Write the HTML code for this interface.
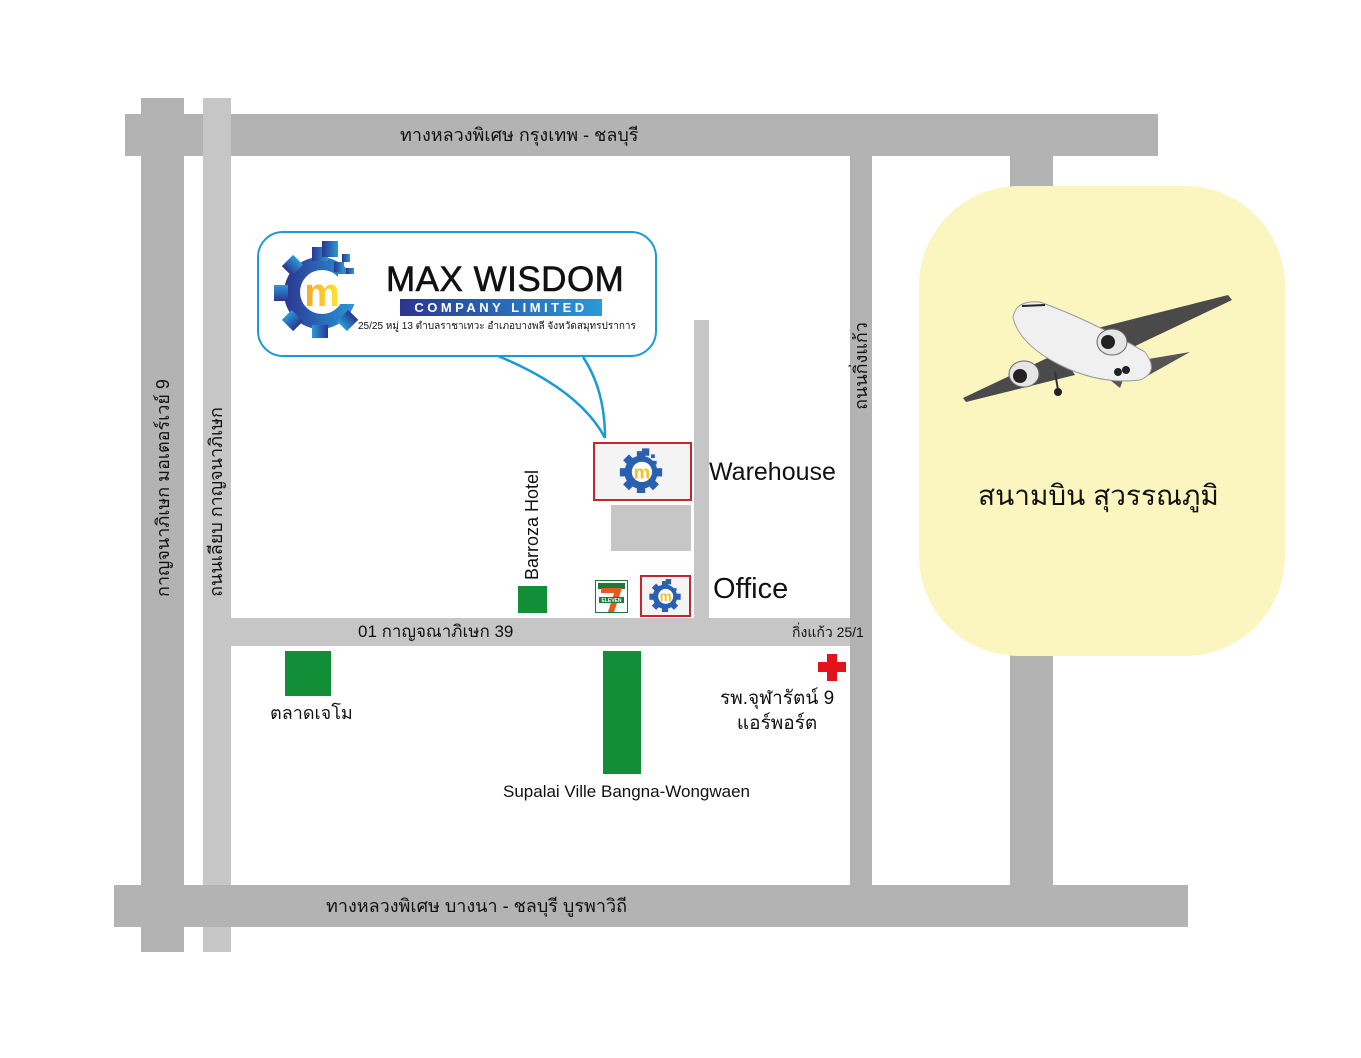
<!DOCTYPE html>
<html><head><meta charset="utf-8">
<style>
body{margin:0;width:1361px;height:1058px;background:#fff;position:relative;overflow:hidden;font-family:"Liberation Sans","Noto Sans CJK SC",sans-serif;}
.a{position:absolute}
.d{background:#b3b3b3}
.l{background:#c6c6c6}
.t{position:absolute;white-space:nowrap;color:#111;line-height:1}
.g{background:#128d38;position:absolute}
</style></head><body>
<!-- roads -->
<div class="a d" style="left:125px;top:114px;width:1033px;height:42px"></div>
<div class="a d" style="left:141px;top:98px;width:43px;height:854px"></div>
<div class="a l" style="left:203px;top:98px;width:28px;height:854px"></div>
<div class="a d" style="left:1010px;top:156px;width:43px;height:729px"></div>
<div class="a l" style="left:231px;top:618px;width:620px;height:28px"></div>
<div class="a d" style="left:850px;top:156px;width:22px;height:729px"></div>
<div class="a d" style="left:114px;top:885px;width:1074px;height:42px"></div>
<div class="a l" style="left:694px;top:320px;width:15px;height:298px"></div>

<div class="t" style="left:400px;top:126px;font-size:18px">ทางหลวงพิเศษ กรุงเทพ - ชลบุรี</div>
<div class="t" style="left:326px;top:897px;font-size:18px">ทางหลวงพิเศษ บางนา - ชลบุรี บูรพาวิถี</div>
<div class="t" style="left:163px;top:488px;font-size:18px;transform:translate(-50%,-50%) rotate(-90deg)">กาญจนาภิเษก มอเตอร์เวย์ 9</div>
<div class="t" style="left:216px;top:502px;font-size:18px;transform:translate(-50%,-50%) rotate(-90deg)">ถนนเลียบ กาญจนาภิเษก</div>
<div class="t" style="left:861px;top:366px;font-size:18px;transform:translate(-50%,-50%) rotate(-90deg)">ถนนกิ่งแก้ว</div>
<div class="t" style="left:358px;top:623px;font-size:17px">01 กาญจณาภิเษก 39</div>
<div class="t" style="left:792px;top:625px;font-size:14px">กิ่งแก้ว 25/1</div>

<!-- airport -->
<div class="a" style="left:919px;top:186px;width:366px;height:470px;background:#fbf6c0;border-radius:100px"></div>
<div class="t" style="left:978px;top:482px;font-size:28px">สนามบิน สุวรรณภูมิ</div>
<svg class="a" style="left:955px;top:290px" width="290" height="115" viewBox="955 290 290 115">
<polygon points="1070,335 1228,295 1232,300 1110,358" fill="#4a4a4a"/>
<polygon points="1060,352 963,398 966,402 1075,375" fill="#4a4a4a"/>
<polygon points="1130,362 1190,352 1140,380" fill="#555"/>
<polygon points="1100,372 1130,360 1120,388" fill="#555"/>
<path d="M1013,318 Q1015,300 1040,302 Q1090,320 1145,352 Q1160,372 1140,380 Q1100,385 1060,365 Q1020,345 1013,318 Z" fill="#f0f0f0" stroke="#999"/>
<path d="M1022,306 L1045,305" stroke="#222" stroke-width="2"/>
<ellipse cx="1112" cy="342" rx="15" ry="13" fill="#e6e6e6" stroke="#666"/><circle cx="1108" cy="342" r="7" fill="#222"/>
<ellipse cx="1024" cy="374" rx="15" ry="13" fill="#e6e6e6" stroke="#666"/><circle cx="1020" cy="376" r="7" fill="#222"/>
<line x1="1055" y1="372" x2="1058" y2="390" stroke="#333" stroke-width="2"/>
<circle cx="1058" cy="392" r="4" fill="#222"/><circle cx="1118" cy="372" r="4" fill="#222"/><circle cx="1126" cy="370" r="4" fill="#222"/>
</svg>

<!-- callout -->
<svg class="a" style="left:0;top:0" width="1361" height="1058">
<path d="M498,356 Q580,390 605,438" fill="none" stroke="#1a9ad6" stroke-width="2.5"/>
<path d="M583,357 Q605,390 605,438" fill="none" stroke="#1a9ad6" stroke-width="2.5"/>
</svg>
<div class="a" style="left:257px;top:231px;width:396px;height:122px;border:2.5px solid #1a9ad6;border-radius:26px;background:#fff"></div>
<svg class="a" style="left:270px;top:238px" width="100" height="100" viewBox="0 0 100 100">
<defs><linearGradient id="bg1" x1="0" x2="1"><stop offset="0" stop-color="#2b3590"/><stop offset="1" stop-color="#2a9ad8"/></linearGradient>
<linearGradient id="yg" x1="0" x2="1"><stop offset="0" stop-color="#f5a623"/><stop offset="1" stop-color="#fde732"/></linearGradient></defs>
<g fill="url(#bg1)">
<circle cx="50" cy="55" r="36"/>
<g transform="translate(50,55)"><rect x="-8" y="-46" width="16" height="14" transform="rotate(-45)"/><rect x="-8" y="-46" width="16" height="14" transform="rotate(-90)"/><rect x="-8" y="-46" width="16" height="14" transform="rotate(-135)"/><rect x="-8" y="-46" width="16" height="14" transform="rotate(180)"/><rect x="-8" y="-46" width="16" height="14" transform="rotate(135)"/><rect x="-8" y="-46" width="16" height="14" transform="rotate(90)"/><rect x="-8" y="-46" width="16" height="14" transform="rotate(0)"/></g>
<rect x="52" y="3" width="16" height="16"/><rect x="72" y="16" width="8" height="8"/><rect x="64" y="24" width="10" height="10"/><rect x="76" y="30" width="8" height="8"/>
</g>
<rect x="68" y="36" width="30" height="30" fill="#fff"/>
<circle cx="52" cy="54" r="22" fill="#fff"/>
<text x="52" y="68" font-size="40" font-weight="bold" text-anchor="middle" fill="url(#yg)" font-family="Liberation Sans">m</text>
</svg>
<div class="t" style="left:386px;top:262px;font-size:35px;letter-spacing:0.5px;-webkit-text-stroke:0.6px #111">MAX WISDOM</div>
<div class="t" style="left:400px;top:299px;width:202px;height:17px;background:linear-gradient(90deg,#2b3590,#2a9ad8);color:#fff;font-size:13px;font-weight:bold;letter-spacing:3.5px;text-align:center;line-height:17px">COMPANY LIMITED</div>
<div class="t" style="left:358px;top:322px;font-size:10px">25/25 หมู่ 13 ตำบลราชาเทวะ อำเภอบางพลี จังหวัดสมุทรปราการ</div>

<!-- warehouse -->
<div class="a" style="left:593px;top:442px;width:95px;height:55px;border:2px solid #c1272d;background:#f4f4f4"></div>
<svg class="a" style="left:618px;top:447px" width="46" height="46" viewBox="0 0 100 100">
<g fill="#2b5fb0"><circle cx="50" cy="55" r="36"/><g transform="translate(50,55)"><rect x="-9" y="-46" width="18" height="14" transform="rotate(-45)"/><rect x="-9" y="-46" width="18" height="14" transform="rotate(-90)"/><rect x="-9" y="-46" width="18" height="14" transform="rotate(-135)"/><rect x="-9" y="-46" width="18" height="14" transform="rotate(180)"/><rect x="-9" y="-46" width="18" height="14" transform="rotate(135)"/><rect x="-9" y="-46" width="18" height="14" transform="rotate(90)"/><rect x="-9" y="-46" width="18" height="14" transform="rotate(0)"/></g><rect x="52" y="3" width="16" height="16"/><rect x="72" y="16" width="8" height="8"/><rect x="76" y="30" width="8" height="8"/></g>
<circle cx="52" cy="54" r="22" fill="#fff"/><text x="52" y="68" font-size="40" font-weight="bold" text-anchor="middle" fill="#f5c023" font-family="Liberation Sans">m</text></svg>
<div class="t" style="left:709px;top:460px;font-size:25px">Warehouse</div>
<div class="a l" style="left:611px;top:505px;width:80px;height:46px"></div>

<!-- office -->
<div class="a" style="left:640px;top:575px;width:47px;height:38px;border:2px solid #c1272d;background:#f4f4f4"></div>
<svg class="a" style="left:648px;top:578px" width="34" height="34" viewBox="0 0 100 100">
<g fill="#2b5fb0"><circle cx="50" cy="55" r="36"/><g transform="translate(50,55)"><rect x="-9" y="-46" width="18" height="14" transform="rotate(-45)"/><rect x="-9" y="-46" width="18" height="14" transform="rotate(-90)"/><rect x="-9" y="-46" width="18" height="14" transform="rotate(-135)"/><rect x="-9" y="-46" width="18" height="14" transform="rotate(180)"/><rect x="-9" y="-46" width="18" height="14" transform="rotate(135)"/><rect x="-9" y="-46" width="18" height="14" transform="rotate(90)"/><rect x="-9" y="-46" width="18" height="14" transform="rotate(0)"/></g><rect x="52" y="3" width="16" height="16"/><rect x="76" y="30" width="8" height="8"/></g>
<circle cx="52" cy="54" r="22" fill="#fff"/><text x="52" y="68" font-size="40" font-weight="bold" text-anchor="middle" fill="#f5c023" font-family="Liberation Sans">m</text></svg>
<div class="t" style="left:713px;top:575px;font-size:29px">Office</div>
<svg class="a" style="left:595px;top:580px" width="33" height="33" viewBox="0 0 33 33">
<rect x="0.5" y="0.5" width="32" height="32" fill="#fff" stroke="#1a7a3a"/>
<rect x="3" y="3" width="27" height="6" fill="#1a7a3a"/>
<polygon points="6,8 27,8 19,32 13,32 19,13 6,13" fill="#e55a1c"/>
<rect x="4" y="17" width="25" height="6" fill="#1a7a3a"/>
<text x="16.5" y="22" font-size="5" fill="#fff" text-anchor="middle" font-family="Liberation Sans" font-weight="bold">ELEVEN</text>
</svg>

<!-- places -->
<div class="g" style="left:518px;top:586px;width:29px;height:27px"></div>
<div class="t" style="left:532px;top:525px;font-size:18px;transform:translate(-50%,-50%) rotate(-90deg)">Barroza Hotel</div>
<div class="g" style="left:285px;top:651px;width:46px;height:45px"></div>
<div class="t" style="left:270px;top:704px;font-size:18px">ตลาดเจโม</div>
<div class="g" style="left:603px;top:651px;width:38px;height:123px"></div>
<div class="t" style="left:503px;top:783px;font-size:17px">Supalai Ville Bangna-Wongwaen</div>
<div class="a" style="left:818px;top:662px;width:28px;height:10px;background:#e3131b"></div>
<div class="a" style="left:827px;top:654px;width:10px;height:27px;background:#e3131b"></div>
<div class="t" style="left:720px;top:686px;font-size:19px;text-align:center;line-height:25px">รพ.จุฬารัตน์ 9<br>แอร์พอร์ต</div>
</body></html>
